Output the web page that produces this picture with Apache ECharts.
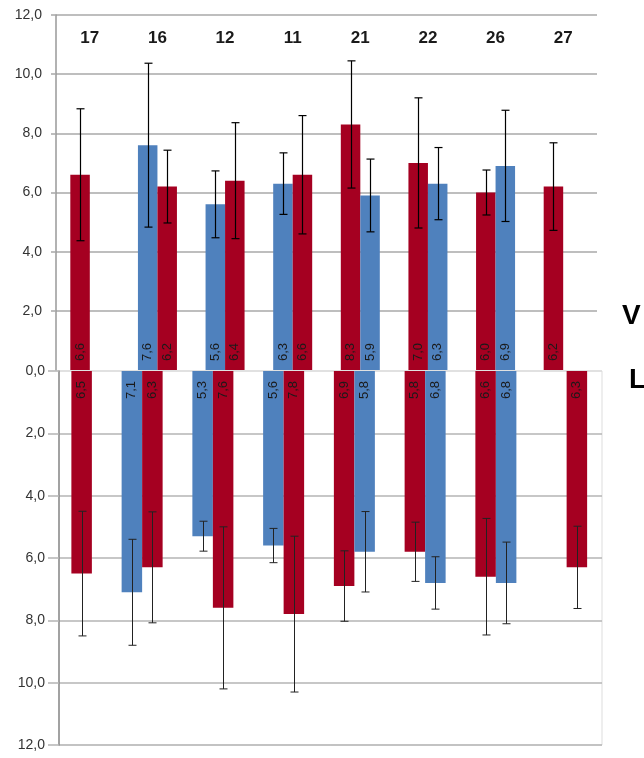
<!DOCTYPE html>
<html>
<head>
<meta charset="utf-8">
<script src="https://cdn.jsdelivr.net/npm/echarts@6/dist/echarts.min.js"></script>
<style>
  html, body { margin: 0; padding: 0; background: #fff; }
  #chart { width: 644px; height: 758px; }
</style>
</head>
<body>
<div id="chart"></div>
<script>
// ---- data ----
const categories = ['17', '16', '12', '11', '21', '22', '26', '27'];
const yTicks = [0, 2, 4, 6, 8, 10, 12];

// upper panel (V)
const redV      = [6.6, 6.2, 6.4, 6.6, 8.3, 7.0, 6.0, 6.2];
const redVErr   = [2.23, 1.23, 1.96, 2.0, 2.15, 2.2, 0.76, 1.48];
const blueV     = [null, 7.6, 5.6, 6.3, 5.9, 6.3, 6.9, null];
const blueVErr  = [null, 2.77, 1.13, 1.04, 1.23, 1.22, 1.88, null];
const leftSlotV = ['red', 'blue', 'blue', 'blue', 'red', 'red', 'red', 'red'];

// lower panel (L)
const redL      = [6.5, 6.3, 7.6, 7.8, 6.9, 5.8, 6.6, 6.3];
const redLErr   = [2.0, 1.78, 2.6, 2.5, 1.13, 0.95, 1.87, 1.32];
const blueL     = [null, 7.1, 5.3, 5.6, 5.8, 6.8, 6.8, null];
const blueLErr  = [null, 1.7, 0.48, 0.55, 1.29, 0.84, 1.31, null];
const leftSlotL = ['blue', 'blue', 'blue', 'blue', 'red', 'red', 'red', 'blue'];

// ---- styling / helpers ----
const COLORS = { red: '#A50021', blue: '#4F81BD' };
const fmt = v => Number(v).toFixed(1).replace('.', ',');
const FONT = 'Liberation Sans';

function slotData(leftSlot, red, blue, redErr, blueErr, slot) {
  const vals = [], errs = [], cols = [];
  for (let i = 0; i < categories.length; i++) {
    const c = slot === 0 ? leftSlot[i] : (leftSlot[i] === 'red' ? 'blue' : 'red');
    vals.push(c === 'red' ? red[i] : blue[i]);
    errs.push(c === 'red' ? redErr[i] : blueErr[i]);
    cols.push(COLORS[c]);
  }
  return { vals, errs, cols };
}

function barSeries(xi, yi, sd, barW, label) {
  return {
    type: 'bar', xAxisIndex: xi, yAxisIndex: yi,
    barWidth: barW, barGap: '0%',
    data: sd.vals.map((v, i) => v == null ? null : { value: v, itemStyle: { color: sd.cols[i] } }),
    label: Object.assign({
      show: true, rotate: 90, fontSize: 13, fontFamily: FONT, color: '#1a1a1a',
      verticalAlign: 'middle',
      formatter: p => fmt(p.value)
    }, label),
    z: 2
  };
}

function errSeries(xi, yi, sd, sign, barW, color, width) {
  const data = [];
  sd.vals.forEach((v, i) => { if (v != null) data.push([i, v, sd.errs[i]]); });
  return {
    type: 'custom', xAxisIndex: xi, yAxisIndex: yi, silent: true, z: 10,
    data,
    renderItem(params, api) {
      const i = api.value(0), v = api.value(1), e = api.value(2);
      const p1 = api.coord([i, v + e]);
      const p2 = api.coord([i, v - e]);
      const x = Math.round(p1[0] + sign * barW / 2) + 0.5;
      const cap = 4;
      const st = { stroke: color, lineWidth: width };
      return {
        type: 'group',
        children: [
          { type: 'line', shape: { x1: x, y1: p1[1], x2: x, y2: p2[1] }, style: st },
          { type: 'line', shape: { x1: x - cap, y1: p1[1], x2: x + cap, y2: p1[1] }, style: st },
          { type: 'line', shape: { x1: x - cap, y1: p2[1], x2: x + cap, y2: p2[1] }, style: st }
        ]
      };
    }
  };
}

const gridGray = '#a8a8a8';
const topSplitColors = yTicks.map((t, i) => i === 0 ? 'rgba(0,0,0,0)' : gridGray);
const botSplitColors = yTicks.map((t, i) => i === 0 ? '#dddddd' : '#b4b4b4');

const V0 = slotData(leftSlotV, redV, blueV, redVErr, blueVErr, 0);
const V1 = slotData(leftSlotV, redV, blueV, redVErr, blueVErr, 1);
const L0 = slotData(leftSlotL, redL, blueL, redLErr, blueLErr, 0);
const L1 = slotData(leftSlotL, redL, blueL, redLErr, blueLErr, 1);

const BW_TOP = 19.5, BW_BOT = 20.5;

const topLabel = { position: 'insideBottom', align: 'left', distance: 9 };
const botLabel = { position: 'insideTop', align: 'right', distance: 10 };

const yLabelBase = { formatter: fmt, fontSize: 14, fontFamily: FONT, color: '#333', margin: 14 };

const option = {
  animation: false,
  backgroundColor: '#fff',
  title: [
    { text: 'V', left: 622, top: 302, padding: 0,
      textStyle: { fontSize: 28, fontWeight: 'bold', fontFamily: FONT, color: '#000' } },
    { text: 'L', left: 629, top: 366, padding: 0,
      textStyle: { fontSize: 28, fontWeight: 'bold', fontFamily: FONT, color: '#000' } }
  ],
  grid: [
    { left: 56, right: 47, top: 15, height: 355 },
    { left: 36, right: 42, top: 371, height: 374 },
    { left: 59, right: 42, top: 371, height: 374, show: true, borderColor: '#dddddd', borderWidth: 1 }
  ],
  xAxis: [
    { type: 'category', gridIndex: 0, data: categories, position: 'top',
      axisLine: { show: false }, axisTick: { show: false },
      axisLabel: { inside: true, margin: 15, fontSize: 17, fontWeight: 'bold', fontFamily: FONT, color: '#1a1a1a' } },
    { type: 'category', gridIndex: 1, data: categories, show: false },
    { type: 'value', gridIndex: 2, min: 0, max: 1, show: false }
  ],
  yAxis: [
    { type: 'value', gridIndex: 0, min: 0, max: 12, interval: 2,
      axisLine: { show: true, lineStyle: { color: '#999', width: 1.5 } },
      axisTick: { show: true, length: 5, lineStyle: { color: gridGray, width: 1.5 } },
      axisLabel: Object.assign({ showMinLabel: false }, yLabelBase),
      splitLine: { show: true, lineStyle: { color: topSplitColors, width: 1.5 } } },
    { type: 'value', gridIndex: 1, min: 0, max: 12, interval: 2, inverse: true, show: false,
      splitLine: { show: false } },
    { type: 'value', gridIndex: 2, min: 0, max: 12, interval: 2, inverse: true,
      axisLine: { show: true, lineStyle: { color: '#888', width: 1.5 } },
      axisTick: { show: true, length: 11, lineStyle: { color: '#b4b4b4', width: 1.5 } },
      axisLabel: yLabelBase,
      splitLine: { show: true, lineStyle: { color: botSplitColors, width: 1.5 } } }
  ],
  series: [
    barSeries(0, 0, V0, BW_TOP, topLabel),
    barSeries(0, 0, V1, BW_TOP, topLabel),
    errSeries(0, 0, V0, -1, BW_TOP, '#000', 1.2),
    errSeries(0, 0, V1, 1, BW_TOP, '#000', 1.2),
    barSeries(1, 1, L0, BW_BOT, botLabel),
    barSeries(1, 1, L1, BW_BOT, botLabel),
    errSeries(1, 1, L0, -1, BW_BOT, '#222', 1),
    errSeries(1, 1, L1, 1, BW_BOT, '#222', 1)
  ]
};

const chart = echarts.init(document.getElementById('chart'), null, { renderer: 'canvas' });
chart.setOption(option);
</script>
</body>
</html>
